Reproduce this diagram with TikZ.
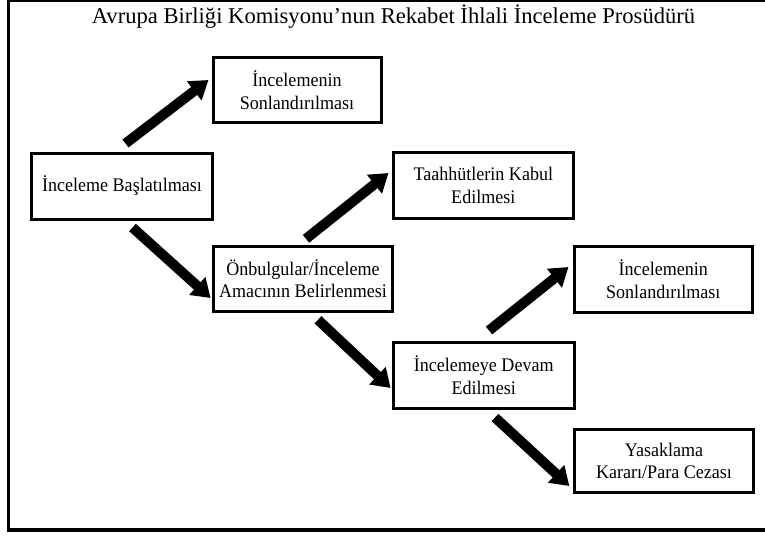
\documentclass[tikz,border=0pt]{standalone}
\usepackage{fontspec}
\setmainfont{Liberation Serif}
\newfontfamily\boxfont[FakeStretch=0.94]{Liberation Serif}
\usetikzlibrary{arrows.meta,calc}
\begin{document}
\begin{tikzpicture}[x=1pt,y=-1pt,
  box/.style={draw, line width=3pt, inner sep=0pt, align=center,
    font=\boxfont\fontsize{19.2}{22.6}\selectfont},
  bigarrow/.style={line width=10pt, -{Triangle[width=23pt,length=18pt]}},
  frameline/.style={line cap=butt}
]
\useasboundingbox (0,0) rectangle (765,535);
% frame
\draw[frameline, line width=1.5pt] (8,1) -- (770,1);
\draw[frameline, line width=2.7pt] (8.7,0) -- (8.7,531.7);
\draw[frameline, line width=3.3pt] (7.3,530) -- (770,530);
% title
\node[anchor=base, font=\fontsize{22.6}{26}\selectfont] (title) at (393.5,24)
  {Avrupa Birliği Komisyonu'nun Rekabet İhlali İnceleme Prosüdürü};
% boxes
\node[box, minimum width=168pt, minimum height=65.5pt] (b1) at (297,90)
  {İncelemenin\\Sonlandırılması};
\node[box, minimum width=180.6pt, minimum height=66pt] (b2) at (122,186)
  {İnceleme Başlatılması};
\node[box, minimum width=178.3pt, minimum height=65pt] (b3) at (303,278.8)
  {Önbulgular/İnceleme\\Amacının Belirlenmesi};
\node[box, minimum width=180pt, minimum height=66.5pt] (b4) at (483.3,185.5)
  {Taahhütlerin Kabul\\Edilmesi};
\node[box, minimum width=178pt, minimum height=66.3pt] (b5) at (663.3,279.3)
  {İncelemenin\\Sonlandırılması};
\node[box, minimum width=180.7pt, minimum height=66pt] (b6) at (483.7,375)
  {İncelemeye Devam\\Edilmesi};
\node[box, minimum width=179.7pt, minimum height=62.5pt] (b7) at (664,460.8)
  {Yasaklama\\Kararı/Para Cezası};
% arrows
\draw[bigarrow] ($(b2.north west)+(95.3,-8)$) -- ($(b1.west)+(-3,-10)$);
\draw[bigarrow] ($(b2.south west)+(102.3,7)$) -- ($(b3.west)+(-1.7,19.2)$);
\draw[bigarrow] ($(b3.north)+(3,-6)$) -- ($(b4.west)+(-3.3,-12.5)$);
\draw[bigarrow] ($(b3.south)+(15,7)$) -- ($(b6.west)+(-1.3,13)$);
\draw[bigarrow] ($(b6.north)+(5.3,-10)$) -- ($(b5.west)+(-4.3,-12.3)$);
\draw[bigarrow] ($(b6.south)+(11.3,8)$) -- ($(b7.west)+(-3.3,25.2)$);
\end{tikzpicture}
\end{document}
